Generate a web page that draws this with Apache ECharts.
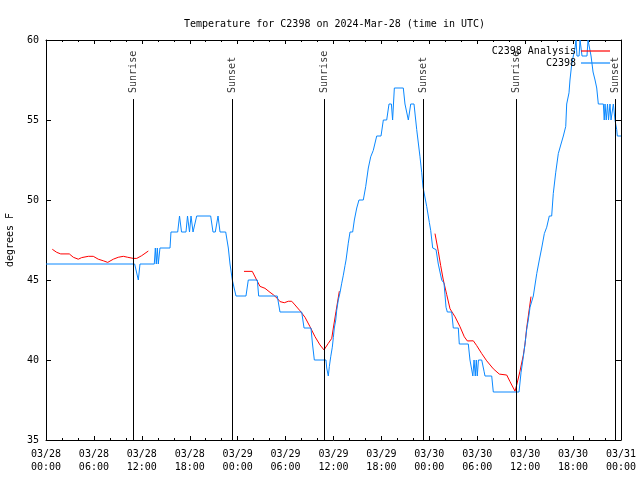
<!DOCTYPE html>
<html><head><meta charset="utf-8">
<script src="https://cdn.jsdelivr.net/npm/echarts@6/dist/echarts.min.js"></script>
<style>html,body{margin:0;padding:0;background:#fff}#c{width:640px;height:480px}</style>
</head><body><div id="c"></div>
<script>
const titleText = "Temperature for C2398 on 2024-Mar-28 (time in UTC)";
const xTickLabels = ["03/28\n00:00","03/28\n06:00","03/28\n12:00","03/28\n18:00","03/29\n00:00","03/29\n06:00","03/29\n12:00","03/29\n18:00","03/30\n00:00","03/30\n06:00","03/30\n12:00","03/30\n18:00","03/31\n00:00"];
// hours since 03/28 00:00 UTC
const sunTimes = [10.9, 23.33, 34.85, 47.2, 58.85, 71.3];
const sunNames = ["Sunrise","Sunset","Sunrise","Sunset","Sunrise","Sunset"];

const analysisDay1 = [[0.79,46.92],[1.34,46.73],[1.84,46.63],[2.92,46.63],[3.42,46.42],[4.04,46.3],[4.47,46.4],[5.3,46.48],[5.92,46.48],[6.55,46.3],[7.18,46.2],[7.73,46.1],[8.43,46.3],[9.05,46.42],[9.68,46.48],[10.23,46.42],[10.93,46.35],[11.36,46.35],[11.98,46.52],[12.81,46.81]];
const analysisDay2 = [[24.79,45.54],[25.83,45.54],[26.38,45.0],[26.8,44.6],[27.42,44.48],[28.05,44.23],[28.46,44.08],[28.96,43.85],[29.3,43.65],[29.84,43.58],[30.34,43.67],[30.77,43.67],[31.18,43.44],[31.8,43.08],[32.43,42.67],[33.06,42.08],[33.68,41.46],[34.31,40.94],[34.81,40.63],[35.35,41.04],[35.78,41.35],[35.98,42.0],[36.31,43.02],[36.73,44.3]];
const analysisDay3 = [[48.71,47.9],[49.12,46.8],[49.42,45.9],[49.75,45.0],[50.17,44.1],[50.59,43.2],[51.22,42.7],[51.84,42.08],[52.38,41.45],[52.76,41.19],[53.51,41.2],[53.93,40.9],[54.56,40.4],[55.18,39.95],[56.01,39.45],[56.76,39.12],[57.69,39.06],[58.1,38.65],[58.73,38.05],[58.94,38.44],[59.35,39.3],[59.77,40.3],[59.98,41.0],[60.19,42.0],[60.52,43.2],[60.73,43.96]];

const obs = [[0,46],[11.1,46],[11.56,45],[11.77,46],[13.56,46],[13.69,47],[13.81,46],[13.94,47],[14.06,46],[14.27,47],[15.53,47],[15.65,48],[16.49,48],[16.72,49],[16.97,48],[17.53,48],[17.72,49],[17.97,48],[18.16,49],[18.41,48],[18.6,48],[18.87,49],[20.62,49],[20.91,48],[21.2,48],[21.54,49],[21.79,48],[22.5,48],[22.83,47],[23.04,46],[23.33,45],[23.54,45],[23.79,44],[25.04,44],[25.33,45],[26.46,45],[26.63,44],[28.96,44],[29.3,43],[32.02,43],[32.31,42],[33.18,42],[33.37,41],[33.6,40],[35.06,40],[35.15,39.5],[35.35,39],[35.48,39.6],[35.65,40.2],[35.85,40.8],[35.98,41.4],[36.1,42],[36.28,42.5],[36.4,43.1],[36.6,43.75],[36.81,44.2],[37.03,44.8],[37.23,45.3],[37.44,45.9],[37.57,46.25],[37.85,47.3],[38.07,48],[38.4,48],[38.61,48.75],[38.91,49.5],[39.19,50],[39.73,50],[40.03,50.83],[40.36,52],[40.66,52.7],[40.98,53.1],[41.41,54],[41.95,54],[42.24,55],[42.66,55],[42.95,56],[43.25,56],[43.4,55],[43.5,55],[43.62,57],[44.74,57],[44.95,56],[45.37,55],[45.55,55],[45.67,56],[46.08,56],[46.42,54.4],[46.83,52.7],[47.05,51.7],[47.21,50.8],[47.67,49.6],[48.0,48.6],[48.17,48.1],[48.42,47],[48.84,46.9],[49.12,46],[49.55,45],[49.84,44.8],[50.09,43.3],[50.25,43],[50.8,43],[51.0,42],[51.63,42],[51.75,41],[52.88,41],[53.09,40],[53.28,40],[53.45,39],[53.6,40],[53.75,39],[53.88,40],[54.0,39],[54.15,40],[54.56,40],[54.85,39.3],[54.97,39],[55.81,39],[56.01,38],[59.23,38],[59.48,39.2],[59.77,40.2],[59.98,41],[60.19,41.9],[60.39,42.5],[60.61,43.3],[61.02,44],[61.45,45.4],[61.77,46.25],[62.07,47],[62.4,47.9],[62.7,48.3],[63.02,49],[63.32,49],[63.52,50.4],[63.82,51.7],[64.15,52.9],[64.49,53.5],[64.78,54],[64.99,54],[65.08,54.6],[65.2,56],[65.49,56.7],[65.61,57.5],[65.83,58.5],[66.03,59],[66.24,59.5],[66.37,60],[66.49,59],[66.75,59],[66.87,60],[67.0,60],[67.12,59],[67.74,59],[67.87,60],[68.12,60],[68.25,59],[68.5,58],[68.75,57.5],[68.96,57],[69.16,56],[69.79,56],[69.9,55],[70.0,56],[70.15,55],[70.31,56],[70.44,55],[70.62,56],[70.75,55],[71.04,56],[71.25,55],[71.46,54.4],[71.54,54],[72,54]];

const FONT = "DejaVu Sans Mono";
const analysisData = analysisDay1.concat([[18,null]], analysisDay2, [[42,null]], analysisDay3);
const sunData = sunTimes.map((t,i)=>({value:[t,56.69], name: sunNames[i]}));
const sunLines = sunTimes.map(t=>[{coord:[t,56.31]},{coord:[t,35]}]);

const chart = echarts.init(document.getElementById('c'), null, {renderer:'canvas'});
const axisCommon = {
  axisLine:{show:true, onZero:false, lineStyle:{color:'#000', width:1}},
  splitLine:{show:false}
};
chart.setOption({
  animation:false,
  backgroundColor:'#fff',
  title:{text:titleText, left:179, top:14, textStyle:{fontFamily:FONT, fontSize:10, fontWeight:'normal', color:'#000'}},
  grid:{left:46, right:19, top:40, bottom:40, containLabel:false, outerBoundsMode:'none'},
  legend:{
    orient:'vertical', right:30, top:45, align:'right', padding:0, itemGap:0,
    itemWidth:29, itemHeight:1.2, icon:'rect',
    textStyle:{fontFamily:FONT, fontSize:10, color:'#000', lineHeight:12},
    data:['C2398 Analysis','C2398']
  },
  xAxis:[
    Object.assign({type:'value', min:0, max:72, interval:6, position:'bottom',
      axisTick:{show:true, inside:true, length:4, lineStyle:{color:'#000'}},
      minorTick:{show:true, splitNumber:3, length:2, lineStyle:{color:'#000'}},
      axisLabel:{fontFamily:FONT, fontSize:10, color:'#000', margin:8, lineHeight:13,
        formatter:(v)=>xTickLabels[Math.round(v/6)] || ''}
    }, axisCommon),
    Object.assign({type:'value', min:0, max:72, interval:6, position:'top',
      axisTick:{show:true, inside:true, length:4, lineStyle:{color:'#000'}},
      minorTick:{show:true, splitNumber:3, length:2, lineStyle:{color:'#000'}},
      axisLabel:{show:false}
    }, axisCommon)
  ],
  yAxis:[
    Object.assign({type:'value', min:35, max:60, interval:5, position:'left',
      name:'degrees F', nameLocation:'middle', nameGap:31, nameRotate:90,
      nameTextStyle:{fontFamily:FONT, fontSize:10, color:'#000'},
      axisTick:{show:true, inside:true, length:5, lineStyle:{color:'#000'}},
      axisLabel:{fontFamily:FONT, fontSize:10, color:'#000', margin:7}
    }, axisCommon),
    Object.assign({type:'value', min:35, max:60, interval:5, position:'right',
      axisTick:{show:true, inside:true, length:5, lineStyle:{color:'#000'}},
      axisLabel:{show:false}
    }, axisCommon)
  ],
  series:[
    {type:'scatter', name:'sun', xAxisIndex:0, yAxisIndex:0, symbolSize:0, data:sunData, silent:true,
      label:{show:true, position:'inside', rotate:90, align:'left', verticalAlign:'middle',
        formatter:(p)=>p.name, fontFamily:FONT, fontSize:10, color:'#000'},
      markLine:{silent:true, symbol:'none', label:{show:false},
        lineStyle:{color:'#000', width:1, type:'solid'}, data:sunLines}
    },
    {type:'line', name:'C2398 Analysis', xAxisIndex:0, yAxisIndex:0, data:analysisData,
      symbol:'none', connectNulls:false, lineStyle:{color:'#ff0000', width:1}, itemStyle:{color:'#ff0000'}},
    {type:'line', name:'C2398', xAxisIndex:0, yAxisIndex:0, data:obs,
      symbol:'none', lineStyle:{color:'#0a88ff', width:1}, itemStyle:{color:'#0a88ff'}}
  ]
});
</script></body></html>
